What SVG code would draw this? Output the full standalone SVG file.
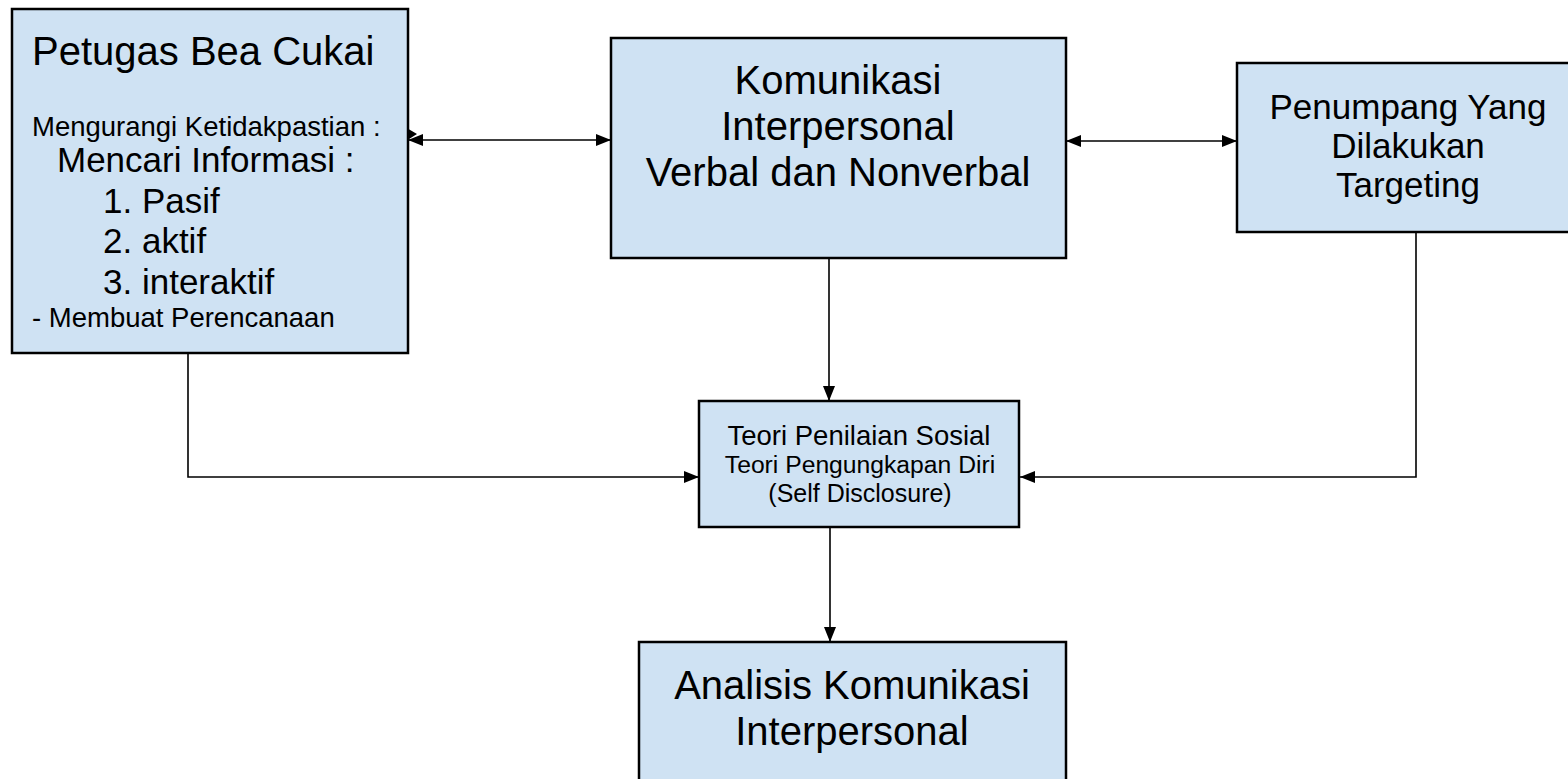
<svg xmlns="http://www.w3.org/2000/svg" width="1568" height="779" viewBox="0 0 1568 779">
<style>
.box{fill:#cfe2f3;stroke:#000;stroke-width:2.5}
text{font-family:"Liberation Sans",Arial,sans-serif;fill:#000}
.c{text-anchor:middle}
.conn{fill:none;stroke:#000;stroke-width:1.6}
</style>
<defs>
<marker id="arr" viewBox="0 0 15 12" refX="15" refY="6" markerWidth="15" markerHeight="12" markerUnits="userSpaceOnUse" orient="auto-start-reverse">
<path d="M0,0 L15,6 L0,12 Z" fill="#000"/>
</marker>
</defs>
<rect x="0" y="0" width="1568" height="779" fill="#fff"/>
<g id="connectors">
<line class="conn" x1="408" y1="140" x2="611" y2="140" marker-start="url(#arr)" marker-end="url(#arr)"/>
<polygon points="398,146 405,127 417,134" fill="#000"/>
<line class="conn" x1="1066" y1="141" x2="1237" y2="141" marker-start="url(#arr)" marker-end="url(#arr)"/>
<line class="conn" x1="829" y1="258" x2="829" y2="401" marker-end="url(#arr)"/>
<polyline class="conn" points="188,353 188,477 699,477" marker-end="url(#arr)"/>
<polyline class="conn" points="1416,232 1416,477 1020,477" marker-end="url(#arr)"/>
<line class="conn" x1="830" y1="527" x2="830" y2="642" marker-end="url(#arr)"/>
</g>
<g id="node-petugas">
<rect class="box" x="12" y="9" width="396" height="344"/>
<text x="32" y="65" font-size="40">Petugas Bea Cukai</text>
<text x="32" y="136" font-size="27.5">Mengurangi Ketidakpastian :</text>
<text x="57" y="172" font-size="35">Mencari Informasi :</text>
<text x="103" y="213" font-size="35">1. Pasif</text>
<text x="103" y="253" font-size="35">2. aktif</text>
<text x="103" y="294" font-size="35">3. interaktif</text>
<text x="32" y="327" font-size="27.5">- Membuat Perencanaan</text>
</g>
<g id="node-komunikasi">
<rect class="box" x="611" y="38" width="455" height="220"/>
<text class="c" x="838" y="94" font-size="40">Komunikasi</text>
<text class="c" x="838" y="140" font-size="40">Interpersonal</text>
<text class="c" x="838" y="186" font-size="40">Verbal dan Nonverbal</text>
</g>
<g id="node-penumpang">
<rect class="box" x="1237" y="63" width="345" height="169"/>
<text class="c" x="1408" y="119" font-size="35">Penumpang Yang</text>
<text class="c" x="1408" y="158" font-size="35">Dilakukan</text>
<text class="c" x="1408" y="197" font-size="35">Targeting</text>
</g>
<g id="node-teori">
<rect class="box" x="699" y="401" width="320" height="126"/>
<text class="c" x="859" y="445" font-size="27.5">Teori Penilaian Sosial</text>
<text class="c" x="860" y="473" font-size="24.7">Teori Pengungkapan Diri</text>
<text class="c" x="860" y="502" font-size="25">(Self Disclosure)</text>
</g>
<g id="node-analisis">
<rect class="box" x="639" y="642" width="427" height="160"/>
<text class="c" x="852" y="699" font-size="40">Analisis Komunikasi</text>
<text class="c" x="852" y="745" font-size="40">Interpersonal</text>
</g>
</svg>
